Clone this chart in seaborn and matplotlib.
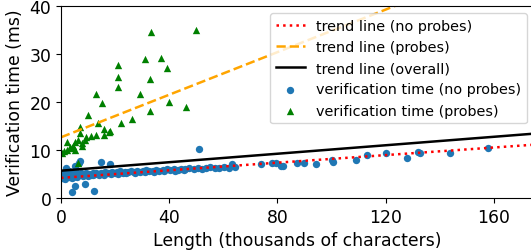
import numpy as np
import matplotlib
matplotlib.use("Agg")
import matplotlib.pyplot as plt
import seaborn as sns

# verification time without probes (length in thousands of chars, time in ms)
noprobe_len = [0.2, 0.4, 0.7, 0.9, 1.1, 1.4, 1.6, 1.9, 2.0, 2.4, 2.7, 3.0, 3.3, 3.6, 3.9,
               4.1, 4.3, 4.7, 5.0, 5.0, 5.1, 5.5, 5.9, 6.4, 6.5, 6.9, 7.4, 7.9, 8.5, 9.0,
               9.1, 9.7, 10.3, 11.0, 11.7, 12.1, 12.4, 13.1, 13.9, 14.7, 14.9, 15.5, 16.3,
               17.2, 18.0, 18.1, 19.0, 19.9, 20.8, 21.8, 22.8, 23.8, 24.8, 25.9, 27.0,
               28.1, 29.2, 30.3, 31.5, 32.7, 33.9, 35.1, 36.4, 37.7, 39.0, 40.3, 41.7,
               43.1, 44.5, 46.0, 47.5, 49.0, 50.5, 51.0, 52.0, 53.6, 55.2, 56.8, 58.5,
               60.2, 62.0, 63.1, 64.3, 74.0, 77.9, 79.5, 81.2, 81.9, 87.1, 90.0, 94.1,
               100.1, 100.7, 109.1, 113.0, 120.1, 128.0, 132.1, 132.7, 143.8, 158.0,
               0.5, 1.3, 2.2, 3.1, 4.0, 6.0, 8.0, 10.0, 12.0, 14.0, 16.0, 18.5, 21.0,
               24.0, 27.5, 31.0, 34.5, 38.0, 42.0, 45.5]
noprobe_time = [4.6, 5.3, 4.1, 5.0, 4.4, 5.5, 4.2, 4.8, 6.2, 4.5, 5.2, 4.3, 4.9, 4.6, 5.3,
                1.2, 4.4, 5.0, 6.6, 2.6, 4.7, 5.4, 4.6, 5.1, 7.3, 7.8, 5.3, 4.7, 5.0, 2.9,
                5.2, 4.8, 5.1, 4.9, 5.3, 1.4, 5.0, 5.2, 5.0, 5.3, 7.6, 5.1, 5.4,
                5.2, 7.0, 5.3, 5.5, 5.2, 5.4, 5.6, 5.3, 5.5, 5.4, 5.6, 5.5,
                5.7, 5.5, 5.6, 5.8, 5.6, 5.7, 5.9, 5.7, 5.8, 6.0, 5.8, 6.0,
                5.9, 6.1, 6.0, 6.2, 6.0, 6.3, 10.2, 6.1, 6.2, 6.4, 6.2, 6.3,
                6.5, 6.3, 7.1, 6.4, 7.0, 7.4, 7.2, 6.7, 6.6, 7.2, 7.4, 7.1,
                8.0, 7.6, 8.0, 9.0, 9.4, 8.4, 9.7, 9.4, 9.3, 10.4,
                4.2, 4.0, 4.9, 5.6, 4.1, 4.4, 4.5, 4.6, 4.7, 4.8, 4.9, 5.0, 5.1,
                5.2, 5.3, 5.4, 5.5, 5.6, 5.7, 5.8]

# verification time with probes
probe_len = [33.3, 50.0, 31.0, 37.0, 39.1, 20.9, 20.9, 20.9, 33.0, 29.1, 13.1, 15.0,
             40.0, 46.1, 33.0, 10.1, 26.1, 22.1, 13.6, 7.0, 16.0, 18.1, 7.0, 11.1,
             13.1, 16.0, 17.7, 9.1, 8.9, 7.6, 6.4, 5.2, 4.6, 3.3, 2.1, 2.1, 1.2, 5.2,
             4.0, 7.6, 0.3, 6.2]
probe_time = [34.6, 35.1, 28.9, 29.2, 27.2, 27.7, 25.3, 23.1, 24.9, 21.8, 21.6, 19.8,
              20.0, 18.9, 18.1, 17.4, 16.5, 15.7, 15.7, 14.9, 14.4, 14.0, 13.5, 12.9,
              13.1, 13.1, 13.7, 12.7, 12.0, 11.5, 12.0, 11.6, 10.9, 10.6, 11.6, 10.1,
              9.9, 10.1, 10.4, 10.9, 9.4, 7.3]

# fitted trend lines: intercept (ms), slope (ms per thousand chars)
trend_labels = ["trend line (no probes)", "trend line (probes)", "trend line (overall)"]
trend_intercepts = [4.2, 12.67, 5.7]
trend_slopes = [0.0396, 0.222, 0.0442]
trend_colors = ["red", "orange", "black"]
trend_styles = [":", "--", "-"]

fig = plt.figure(figsize=(5.31, 2.53), dpi=100)
ax = fig.add_axes([61 / 531, 54 / 253, 473.4 / 531, 191.7 / 253])

xs = np.array([0, 175])
for lab, b, m, c, ls in zip(trend_labels, trend_intercepts, trend_slopes, trend_colors, trend_styles):
    sns.lineplot(x=xs, y=b + m * xs, color=c, linestyle=ls, linewidth=1.8, label=lab, ax=ax)

sns.scatterplot(x=noprobe_len, y=noprobe_time, color="#1f77b4", s=28, linewidth=0,
                label="verification time (no probes)", ax=ax)
sns.scatterplot(x=probe_len, y=probe_time, color="green", marker="^", s=28, linewidth=0,
                label="verification time (probes)", ax=ax)

ax.set_xlim(0, 175)
ax.set_ylim(0, 40)
ax.set_xticks([0, 40, 80, 120, 160])
ax.set_yticks([0, 10, 20, 30, 40])
ax.tick_params(labelsize=12.4)
ax.set_xlabel("Length (thousands of characters)", fontsize=12.4)
ax.set_ylabel("Verification time (ms)", fontsize=12.4)
ax.legend(loc="upper right", fontsize=10.4, bbox_to_anchor=(527 / 531, 1 - 14 / 253),
          bbox_transform=fig.transFigure, borderaxespad=0)

fig.savefig("out.png", dpi=100)
